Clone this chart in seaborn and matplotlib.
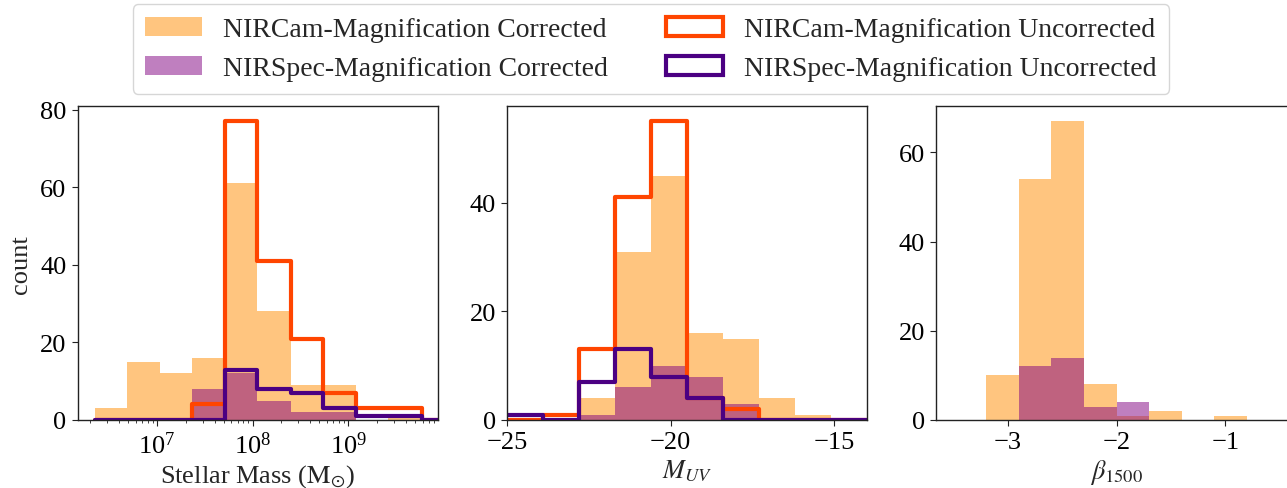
import numpy as np
import pandas as pd
import matplotlib
matplotlib.use("Agg")
import matplotlib.pyplot as plt
from matplotlib.patches import Patch
import seaborn as sns

# ---------------- data ----------------
# Stellar mass histogram: bin edges in log10(M/Msun)
mass_edges = [6.35, 6.69, 7.03, 7.37, 7.71, 8.05, 8.40, 8.74, 9.08, 9.42, 9.77]
mass_nircam_corr = [3, 15, 12, 16, 61, 28, 9, 9, 0, 1]
mass_nirspec_corr = [0, 0, 0, 8, 12, 5, 2, 2, 0, 0]
mass_nircam_uncorr = [0, 0, 0, 4, 77, 41, 21, 7, 3, 3]
mass_nirspec_uncorr = [0, 0, 0, 0, 13, 8, 7, 3, 1, 1]

# M_UV histogram
muv_edges = [-25.0, -23.9, -22.8, -21.7, -20.6, -19.5, -18.4, -17.3, -16.2, -15.1, -14.0]
muv_nircam_corr = [0, 0, 4, 31, 45, 16, 15, 4, 1, 0]
muv_nirspec_corr = [0, 0, 1, 6, 10, 8, 3, 0, 0, 0]
muv_nircam_uncorr = [0, 1, 13, 41, 55, 4, 2, 0, 0, 0]
muv_nirspec_uncorr = [1, 0, 7, 13, 8, 4, 0, 0, 0, 0]

# beta_1500 histogram
beta_edges = [-3.2, -2.9, -2.6, -2.3, -2.0, -1.7, -1.4, -1.1, -0.8]
beta_nircam_corr = [10, 54, 67, 8, 1, 2, 0, 1]
beta_nirspec_corr = [0, 12, 14, 3, 4, 0, 0, 0]

labels = ["NIRCam-Magnification Corrected", "NIRSpec-Magnification Corrected",
          "NIRCam-Magnification Uncorrected", "NIRSpec-Magnification Uncorrected"]

# ---------------- style ----------------
sns.set_style("ticks")
plt.rcParams["font.family"] = ["Liberation Serif", "DejaVu Serif"]
plt.rcParams["mathtext.fontset"] = "stix"
plt.rcParams["font.size"] = 19
plt.rcParams["axes.edgecolor"] = "#222222"
plt.rcParams["axes.linewidth"] = 1.0
plt.rcParams["xtick.major.size"] = 4.5
plt.rcParams["ytick.major.size"] = 4.5
plt.rcParams["xtick.minor.size"] = 2.5
plt.rcParams["xtick.color"] = "#222222"
plt.rcParams["ytick.color"] = "#222222"
plt.rcParams["xtick.labelcolor"] = "black"
plt.rcParams["ytick.labelcolor"] = "black"

C_ORANGE = "darkorange"
C_PURPLE = "purple"
C_RED = "orangered"
C_INDIGO = "indigo"

W, H = 1287, 489
fig = plt.figure(figsize=(W / 100, H / 100), dpi=100)

def axes_px(x0, x1, y0, y1):
    return fig.add_axes([x0 / W, 1 - y1 / H, (x1 - x0) / W, (y1 - y0) / H])

ax1 = axes_px(77.7, 438.0, 107.3, 421.0)
ax2 = axes_px(507.3, 866.7, 107.3, 421.0)
ax3 = axes_px(936.0, 1297.0, 107.3, 421.0)


def centers(edges):
    e = np.asarray(edges, dtype=float)
    return (e[:-1] + e[1:]) / 2


def filled(ax, edges, counts, color, log=False):
    c = centers(edges)
    x = 10 ** c if log else c
    sns.histplot(x=x, weights=counts, bins=edges, element="step", fill=True,
                 color=color, alpha=0.5, linewidth=0, log_scale=log, ax=ax)


def outline(ax, edges, counts, color, log=False):
    # close the outline on the right with an empty bin so the step drops to 0
    e = list(edges) + [edges[-1] + (edges[-1] - edges[-2])]
    k = list(counts) + [0]
    c = centers(e)
    x = 10 ** c if log else c
    sns.histplot(x=x, weights=k, bins=e, element="step", fill=False,
                 color=color, linewidth=3, log_scale=log, ax=ax)


# --- panel 1: stellar mass ---
filled(ax1, mass_edges, mass_nircam_corr, C_ORANGE, log=True)
filled(ax1, mass_edges, mass_nirspec_corr, C_PURPLE, log=True)
outline(ax1, mass_edges, mass_nircam_uncorr, C_RED, log=True)
outline(ax1, mass_edges, mass_nirspec_uncorr, C_INDIGO, log=True)
ax1.set_xlim(10 ** 6.17, 10 ** 9.94)
ax1.set_ylim(0, 80.85)
ax1.set_yticks([0, 20, 40, 60, 80])
ax1.set_xlabel(r"Stellar Mass ($\mathrm{M}_{\odot}$)", labelpad=3)
ax1.set_ylabel("count", labelpad=6)

# --- panel 2: M_UV ---
filled(ax2, muv_edges, muv_nircam_corr, C_ORANGE)
filled(ax2, muv_edges, muv_nirspec_corr, C_PURPLE)
outline(ax2, muv_edges, muv_nircam_uncorr, C_RED)
outline(ax2, muv_edges, muv_nirspec_uncorr, C_INDIGO)
ax2.set_xlim(-25, -14)
ax2.set_ylim(0, 57.75)
ax2.set_xticks([-25, -20, -15])
ax2.set_yticks([0, 20, 40])
ax2.set_xlabel(r"$M_{UV}$", labelpad=3)
ax2.set_ylabel("")

# --- panel 3: beta ---
filled(ax3, beta_edges, beta_nircam_corr, C_ORANGE)
filled(ax3, beta_edges, beta_nirspec_corr, C_PURPLE)
ax3.set_xlim(-3.66, -0.34)
ax3.set_ylim(0, 70.35)
ax3.set_xticks([-3, -2, -1])
ax3.set_yticks([0, 20, 40, 60])
ax3.set_xlabel(r"$\beta_{1500}$", labelpad=3)
ax3.set_ylabel("")

for ax in (ax1, ax2, ax3):
    for s in ax.spines.values():
        s.set_visible(True)
    ax.tick_params(labelsize=19)

handles = [
    Patch(facecolor=C_ORANGE, alpha=0.5, edgecolor="none"),
    Patch(facecolor=C_PURPLE, alpha=0.5, edgecolor="none"),
    Patch(facecolor="none", edgecolor=C_RED, linewidth=3),
    Patch(facecolor="none", edgecolor=C_INDIGO, linewidth=3),
]
fig.legend(handles, labels, ncol=2, loc="center",
           bbox_to_anchor=(651 / W, 1 - 50 / H), fontsize=20,
           handlelength=2.05, handleheight=0.7, handletextpad=0.75,
           columnspacing=2.1, labelspacing=0.5, frameon=True,
           borderpad=0.45)

fig.savefig("out.png", dpi=100)
